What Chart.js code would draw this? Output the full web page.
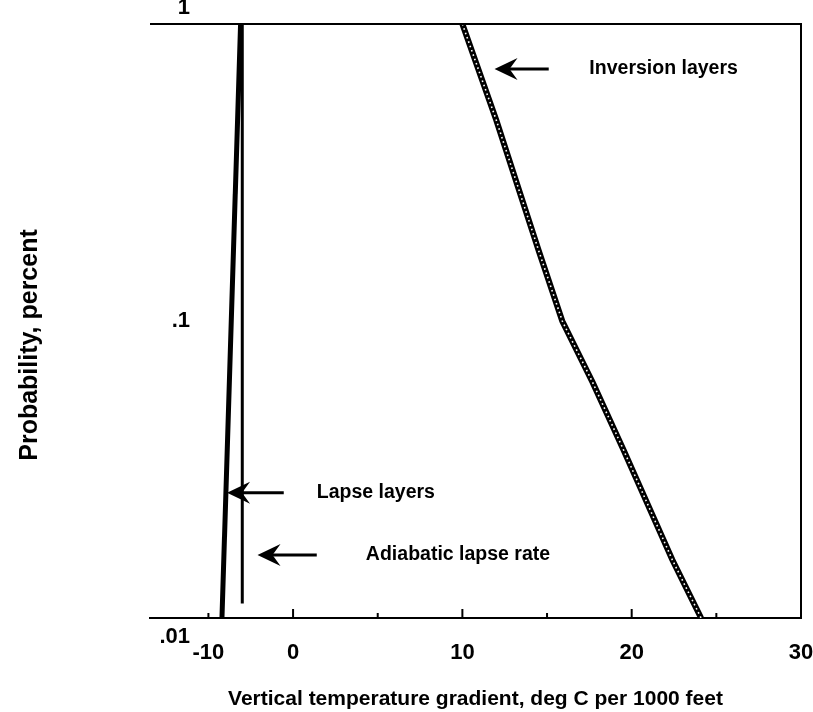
<!DOCTYPE html>
<html>
<head>
<meta charset="utf-8">
<script src="https://cdn.jsdelivr.net/npm/chart.js@4.4.0/dist/chart.umd.min.js"></script>
<style>
  body { margin: 0; background: #fff; }
  #wrap { width: 813px; height: 712px; }
</style>
</head>
<body>
<div id="wrap"><canvas id="gradChart"></canvas></div>
<script>
// Axis ticks
const probTicks = [0.01, 0.1, 1];
const probTickLabels = ['.01', '.1', '1'];
const gradTicks = [-5, 0, 10, 20, 30];
const gradTickLabels = ['-10', '0', '10', '20', '30'];
const majorMarks = [0, 10, 20];
const minorMarks = [-5, 5, 15, 25];

// Inversion layers
const inversionGrad = [10, 12, 14.5, 15.9, 17.7, 19.5, 22.4, 24.1];
const inversionProb = [1, 0.475, 0.173, 0.1, 0.062, 0.037, 0.0157, 0.01];
// Lapse layers
const lapseGrad = [-4.2, -3.1];
const lapseProb = [0.01, 1];
// Adiabatic lapse rate
const adiabaticGrad = [-3, -3];
const adiabaticProb = [0.0112, 1];

const FONT = "'Liberation Sans', Arial, sans-serif";
const yTitle = 'Probability, percent';

function toPoints(xs, ys) {
    return xs.map((x, i) => ({ x: x, y: ys[i] }));
}

// Chú thích: mũi tên + chữ (toạ độ theo dữ liệu)
const notes = [
    { text: 'Inversion layers', tipX: 11.9, tailX: 15.1, y: 0.706, textX: 17.5 },
    { text: 'Lapse layers', tipX: -3.9, tailX: -0.55, y: 0.0264, textX: 1.4 },
    { text: 'Adiabatic lapse rate', tipX: -2.1, tailX: 1.4, y: 0.0163, textX: 4.3 }
];

function drawArrow(ctx, tip, tail, y) {
    ctx.save();
    ctx.strokeStyle = '#000';
    ctx.fillStyle = '#000';
    ctx.lineWidth = 3;
    ctx.beginPath();
    ctx.moveTo(tip + 14, y);
    ctx.lineTo(tail, y);
    ctx.stroke();
    ctx.beginPath();
    ctx.moveTo(tip, y);
    ctx.lineTo(tip + 23, y - 11);
    ctx.lineTo(tip + 15, y);
    ctx.lineTo(tip + 23, y + 11);
    ctx.closePath();
    ctx.fill();
    ctx.restore();
}

const framePlugin = {
    id: 'frame',
    afterDraw(chart) {
        const ctx = chart.ctx;
        const area = chart.chartArea;
        const xs = chart.scales.x;
        const ys = chart.scales.y;
        ctx.save();
        ctx.strokeStyle = '#000';
        ctx.lineWidth = 2;
        // khung trên + phải
        ctx.beginPath();
        ctx.moveTo(area.left, area.top);
        ctx.lineTo(area.right, area.top);
        ctx.lineTo(area.right, area.bottom);
        ctx.stroke();
        // vạch chia trục x (hướng vào trong)
        majorMarks.forEach(v => {
            const px = xs.getPixelForValue(v);
            ctx.beginPath();
            ctx.moveTo(px, area.bottom);
            ctx.lineTo(px, area.bottom - 9);
            ctx.stroke();
        });
        minorMarks.forEach(v => {
            const px = xs.getPixelForValue(v);
            ctx.beginPath();
            ctx.moveTo(px, area.bottom);
            ctx.lineTo(px, area.bottom - 5);
            ctx.stroke();
        });
        // nhãn trục y
        ctx.fillStyle = '#000';
        ctx.font = 'bold 22px ' + FONT;
        ctx.textAlign = 'right';
        ctx.textBaseline = 'middle';
        probTicks.forEach((v, i) => {
            let py = ys.getPixelForValue(v);
            if (i === 0) py += 19;
            if (i === probTicks.length - 1) py -= 16;
            ctx.fillText(probTickLabels[i], area.left + 40, py);
        });
        // tiêu đề trục y
        ctx.save();
        ctx.font = 'bold 25px ' + FONT;
        ctx.textAlign = 'center';
        ctx.translate(30, (area.top + area.bottom) / 2 + 24);
        ctx.rotate(-Math.PI / 2);
        ctx.fillText(yTitle, 0, 0);
        ctx.restore();
        // chú thích
        ctx.font = 'bold 19.5px ' + FONT;
        ctx.textAlign = 'left';
        notes.forEach(n => {
            const py = ys.getPixelForValue(n.y);
            drawArrow(ctx, xs.getPixelForValue(n.tipX), xs.getPixelForValue(n.tailX), py);
            ctx.fillText(n.text, xs.getPixelForValue(n.textX), py);
        });
        ctx.restore();
    }
};

const ctx = document.getElementById('gradChart').getContext('2d');
const gradChart = new Chart(ctx, {
    type: 'scatter',
    data: {
        datasets: [{
            label: 'Inversion layers (holes)',
            data: toPoints(inversionGrad, inversionProb),
            showLine: true,
            borderColor: '#fff',
            borderWidth: 1.6,
            borderDash: [1.6, 3],
            pointRadius: 0,
            order: 0
        }, {
            label: 'Inversion layers',
            data: toPoints(inversionGrad, inversionProb),
            showLine: true,
            borderColor: '#000',
            borderWidth: 6,
            pointRadius: 0,
            order: 1
        }, {
            label: 'Lapse layers',
            data: toPoints(lapseGrad, lapseProb),
            showLine: true,
            borderColor: '#000',
            borderWidth: 5,
            pointRadius: 0,
            order: 1
        }, {
            label: 'Adiabatic lapse rate',
            data: toPoints(adiabaticGrad, adiabaticProb),
            showLine: true,
            borderColor: '#000',
            borderWidth: 3,
            pointRadius: 0,
            order: 1
        }]
    },
    options: {
        responsive: true,
        maintainAspectRatio: false,
        animation: false,
        layout: { padding: { top: 24, right: 12, left: 0, bottom: 0 } },
        plugins: {
            legend: { display: false },
            tooltip: { enabled: false }
        },
        scales: {
            x: {
                type: 'linear',
                min: -8.45,
                max: 30,
                afterBuildTicks: scale => {
                    scale.ticks = gradTicks.map(v => ({ value: v }));
                },
                afterFit: scale => {
                    scale.height = 94;
                    scale.paddingLeft = 0;
                    scale.paddingRight = 0;
                },
                ticks: {
                    callback: (value, index) => gradTickLabels[index],
                    font: { family: FONT, size: 22, weight: 'bold' },
                    color: '#000',
                    padding: 14,
                    maxRotation: 0,
                    autoSkip: false
                },
                grid: { display: false },
                border: { display: true, color: '#000', width: 2 },
                title: {
                    display: true,
                    text: 'Vertical temperature gradient, deg C per 1000 feet',
                    font: { family: FONT, size: 21, weight: 'bold' },
                    color: '#000',
                    padding: { top: 3, bottom: 0 }
                }
            },
            y: {
                type: 'logarithmic',
                min: 0.01,
                max: 1,
                afterFit: scale => {
                    scale.width = 150;
                },
                ticks: { display: false },
                grid: { display: false },
                border: { display: false }
            }
        }
    },
    plugins: [framePlugin]
});
</script>
</body>
</html>
